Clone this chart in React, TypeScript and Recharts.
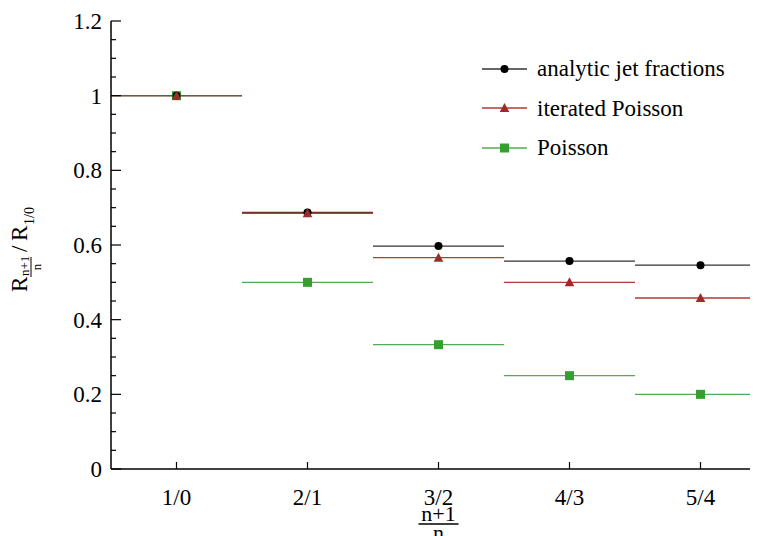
import React from "react";
import { ComposedChart, XAxis, YAxis, Scatter, ReferenceLine } from "recharts";

const categories = ["1/0", "2/1", "3/2", "4/3", "5/4"];
const analyticJetFractions = [1, 0.687, 0.597, 0.557, 0.546];
const iteratedPoisson = [1, 0.685, 0.566, 0.5, 0.458];
const poisson = [1, 0.5, 0.333, 0.25, 0.2];
const yTicks = [
  0, 0.05, 0.1, 0.15, 0.2, 0.25, 0.3, 0.35, 0.4, 0.45, 0.5, 0.55, 0.6, 0.65,
  0.7, 0.75, 0.8, 0.85, 0.9, 0.95, 1, 1.05, 1.1, 1.15, 1.2,
];

const FONT = `"Liberation Serif", serif`;
const W = 770;
const H = 528;
const PLOT_LEFT = 103;
const PLOT_TOP = 13;
const PLOT_BOTTOM = 461;
const PLOT_RIGHT = 758;

const COLORS = {
  analytic: "#333333",
  analyticMark: "#000000",
  iterated: "#b03a36",
  iteratedMark: "#9c2c28",
  poisson: "#55aa55",
  poissonMark: "#36a02f",
};

type Shape = "circle" | "triangle" | "square";

const series: { name: string; values: number[]; line: string; mark: string; shape: Shape }[] = [
  { name: "analytic jet fractions", values: analyticJetFractions, line: COLORS.analytic, mark: COLORS.analyticMark, shape: "circle" },
  { name: "iterated Poisson", values: iteratedPoisson, line: COLORS.iterated, mark: COLORS.iteratedMark, shape: "triangle" },
  { name: "Poisson", values: poisson, line: COLORS.poisson, mark: COLORS.poissonMark, shape: "square" },
];

// draw order: Poisson under, then analytic, iterated on top
const drawOrder = [2, 0, 1];

function Marker({ cx, cy, shape, fill }: { cx: number; cy: number; shape: Shape; fill: string }) {
  if (shape === "circle") return <circle cx={cx} cy={cy} r={4} fill={fill} />;
  if (shape === "triangle")
    return <polygon points={`${cx},${cy - 5} ${cx + 4.8},${cy + 4} ${cx - 4.8},${cy + 4}`} fill={fill} />;
  return <rect x={cx - 4.5} y={cy - 4.5} width={9} height={9} fill={fill} />;
}

const isMajor = (v: number) => Math.abs(v * 5 - Math.round(v * 5)) < 1e-6;

function LeftTick(props: any) {
  const { y, payload } = props;
  const v = payload.value as number;
  const major = isMajor(v);
  return (
    <g>
      <line x1={PLOT_LEFT} x2={PLOT_LEFT + (major ? 10 : 5)} y1={y} y2={y} stroke="#000" strokeWidth={1.2} />
      {major && (
        <text x={PLOT_LEFT - 9} y={y + 8} textAnchor="end" style={{ fontFamily: FONT }} fontSize={23} fill="#000">
          {String(Number(v.toFixed(2)))}
        </text>
      )}
    </g>
  );
}

function RightTick(props: any) {
  const { y, payload } = props;
  const major = isMajor(payload.value as number);
  return <line x1={PLOT_RIGHT} x2={PLOT_RIGHT - (major ? 10 : 5)} y1={y} y2={y} stroke="#000" strokeWidth={1.2} />;
}

function BottomTick(props: any) {
  const { x, payload } = props;
  return (
    <g>
      <line x1={x} x2={x} y1={PLOT_BOTTOM} y2={PLOT_BOTTOM - 7} stroke="#000" strokeWidth={1.2} />
      <text x={x} y={PLOT_BOTTOM + 36} textAnchor="middle" style={{ fontFamily: FONT }} fontSize={23} fill="#000">
        {categories[Math.round(payload.value - 0.5)]}
      </text>
    </g>
  );
}

function TopTick(props: any) {
  const { x } = props;
  return <line x1={x} x2={x} y1={PLOT_TOP} y2={PLOT_TOP + 7} stroke="#000" strokeWidth={1.2} />;
}

function XTitle() {
  const cx = (PLOT_LEFT + PLOT_RIGHT) / 2;
  return (
    <g style={{ fontFamily: FONT }} fill="#000">
      <text x={cx} y={PLOT_BOTTOM + 52} textAnchor="middle" fontSize={22}>n+1</text>
      <line x1={cx - 20} x2={cx + 20} y1={PLOT_BOTTOM + 55} y2={PLOT_BOTTOM + 55} stroke="#000" strokeWidth={1.3} />
      <text x={cx} y={PLOT_BOTTOM + 71} textAnchor="middle" fontSize={22}>n</text>
    </g>
  );
}

function YTitle() {
  // rotated: local +x runs up the page, local +y runs to the right
  return (
    <g transform="translate(19, 284) rotate(-90)" style={{ fontFamily: FONT }} fill="#000">
      <text x={0} y={0} fontSize={23}>R</text>
      <text x={16} y={2} fontSize={13}>n+1</text>
      <line x1={15} x2={35} y1={4} y2={4} stroke="#000" strokeWidth={1} />
      <text x={25} y={14} fontSize={13} textAnchor="middle">n</text>
      <text x={40} y={0} fontSize={23}>/</text>
      <text x={51} y={0} fontSize={23}>R</text>
      <text x={67} y={7} fontSize={14}>1/0</text>
    </g>
  );
}

function LegendBox() {
  return (
    <div style={{ position: "absolute", left: 474, top: 41, fontFamily: FONT, fontSize: 23, color: "#000" }}>
      {series.map((s) => (
        <div key={s.name} style={{ display: "flex", alignItems: "center", height: 39.5, whiteSpace: "nowrap" }}>
          <svg width={55} height={20} style={{ display: "block" }}>
            <line x1={0} x2={45} y1={10} y2={10} stroke={s.line} strokeWidth={1.4} />
            <Marker cx={22.5} cy={10} shape={s.shape} fill={s.mark} />
          </svg>
          <span style={{ lineHeight: "23px" }}>{s.name}</span>
        </div>
      ))}
    </div>
  );
}

export default function App() {
  const xCenters = categories.map((_, i) => i + 0.5);
  return (
    <div style={{ width: 750, height: H, overflow: "hidden", position: "relative", fontFamily: FONT }}>
      <ComposedChart width={W} height={H} margin={{ top: PLOT_TOP, right: W - PLOT_RIGHT, left: PLOT_LEFT - 60, bottom: 0 }}>
        <XAxis
          xAxisId="bottom"
          type="number"
          dataKey="x"
          domain={[0, categories.length]}
          ticks={xCenters}
          interval={0}
          height={H - PLOT_BOTTOM}
          axisLine={{ stroke: "#000", strokeWidth: 1.5 }}
          tickLine={false}
          tick={<BottomTick />}
          label={<XTitle />}
        />
        <XAxis
          xAxisId="top"
          orientation="top"
          type="number"
          dataKey="x"
          domain={[0, categories.length]}
          ticks={xCenters}
          interval={0}
          height={0}
          axisLine={{ stroke: "#000", strokeWidth: 1.5 }}
          tickLine={false}
          tick={<TopTick />}
        />
        <YAxis
          yAxisId="left"
          type="number"
          dataKey="y"
          domain={[0, 1.2]}
          ticks={yTicks}
          interval={0}
          width={60}
          axisLine={{ stroke: "#000", strokeWidth: 1.5 }}
          tickLine={false}
          tick={<LeftTick />}
          label={<YTitle />}
        />
        <YAxis
          yAxisId="right"
          orientation="right"
          type="number"
          dataKey="y"
          domain={[0, 1.2]}
          ticks={yTicks}
          interval={0}
          width={0}
          axisLine={{ stroke: "#000", strokeWidth: 1.5 }}
          tickLine={false}
          tick={<RightTick />}
        />
        {drawOrder.map((si) =>
          series[si].values.map((v, i) => (
            <ReferenceLine
              key={`${series[si].name}-${i}`}
              xAxisId="bottom"
              yAxisId="left"
              segment={[{ x: i, y: v }, { x: i + 1, y: v }]}
              stroke={series[si].line}
              strokeWidth={1.3}
              ifOverflow="visible"
            />
          ))
        )}
        {drawOrder.map((si) => {
          const s = series[si];
          return (
            <Scatter
              key={s.name}
              name={s.name}
              xAxisId="bottom"
              yAxisId="left"
              data={s.values.map((v, i) => ({ x: i + 0.5, y: v }))}
              isAnimationActive={false}
              shape={(p: any) => <Marker cx={p.cx} cy={p.cy} shape={s.shape} fill={s.mark} />}
            />
          );
        })}
      </ComposedChart>
      <LegendBox />
    </div>
  );
}
